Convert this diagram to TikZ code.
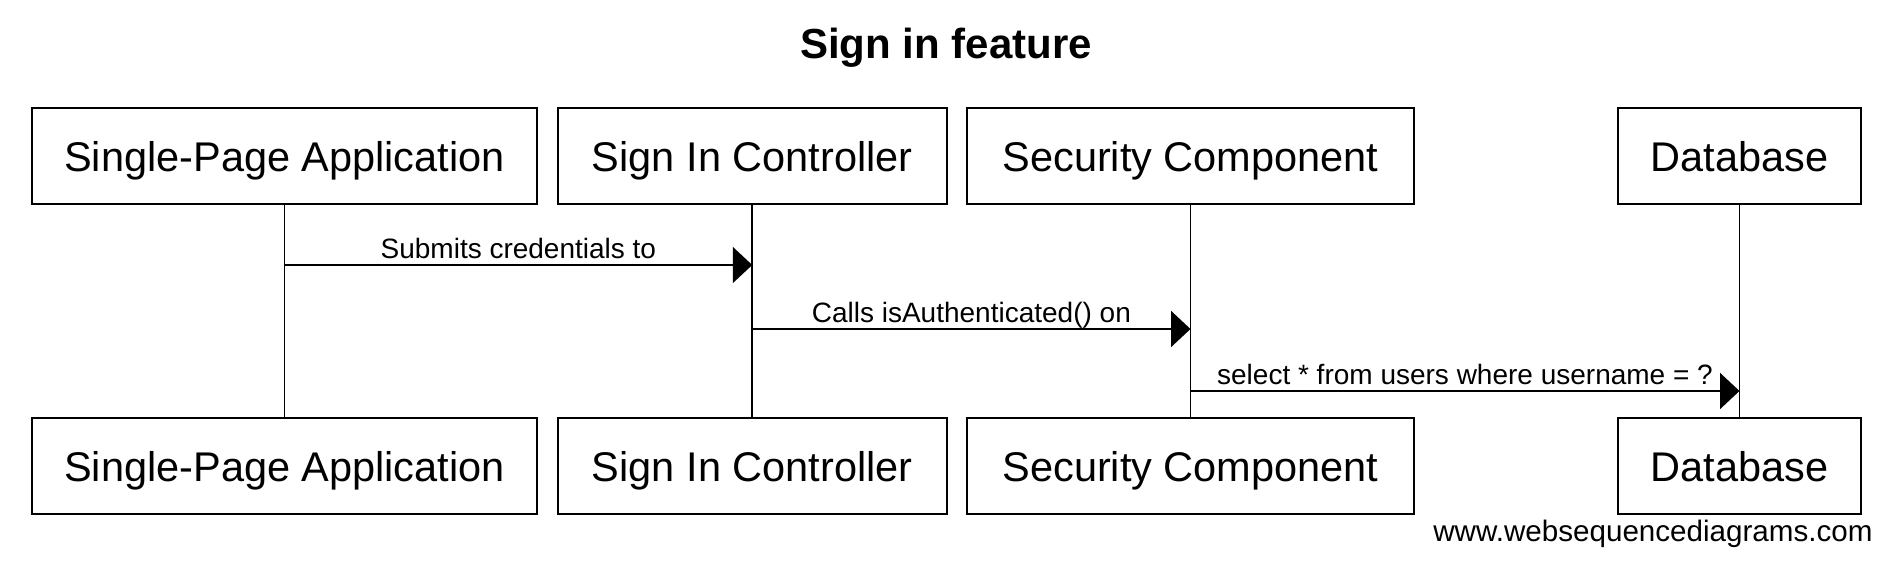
\documentclass[tikz,border=0pt]{standalone}
\usepackage{fontspec}
\setmainfont{Liberation Sans}
\usetikzlibrary{arrows.meta}

\begin{document}
\begin{tikzpicture}[x=0.5pt,y=-0.5pt,
  actor/.style={draw,line width=1pt,fill=white,minimum height=48pt,inner sep=0pt,text height=18pt,text depth=2pt,font=\fontsize{20.75}{25}\selectfont},
  life/.style={line width=0.85pt},
  msg/.style={line width=1pt,-{Triangle[length=9.75pt,width=18pt]}},
  msgtext/.style={anchor=base,yshift=3.25pt,inner sep=0pt,font=\fontsize{14}{17}\selectfont}]
\useasboundingbox (0,0) rectangle (1892,566);
\node[anchor=base,inner sep=0pt,font=\bfseries\fontsize{21}{25}\selectfont] (title) at (946,59) {Sign in feature};
\foreach \n/\x/\w/\t in {spa/284.5/252.5pt/Single-Page Application,ctl/752.25/194.75pt/Sign In Controller,sec/1190.5/223.5pt/Security Component,db/1739.5/121.5pt/Database}{
  \node[actor,minimum width=\w] (\n-head) at (\x,156) {\t};
  \node[actor,minimum width=\w] (\n-foot) at (\x,466) {\t};
  \draw[life] (\n-head) -- (\n-foot);
}
\coordinate (m1) at (0,265);
\coordinate (m2) at (0,329);
\coordinate (m3) at (0,391);
\draw[msg] (spa-head |- m1) -- node[msgtext] {Submits credentials to} (ctl-head |- m1);
\draw[msg] (ctl-head |- m2) -- node[msgtext] {Calls isAuthenticated() on} (sec-head |- m2);
\draw[msg] (sec-head |- m3) -- node[msgtext] {select * from users where username = ?} (db-head |- m3);
\node[anchor=base east,inner sep=0pt,font=\fontsize{14.8}{18}\selectfont] (credit) at (1873,542) {www.websequencediagrams.com};
\end{tikzpicture}
\end{document}
